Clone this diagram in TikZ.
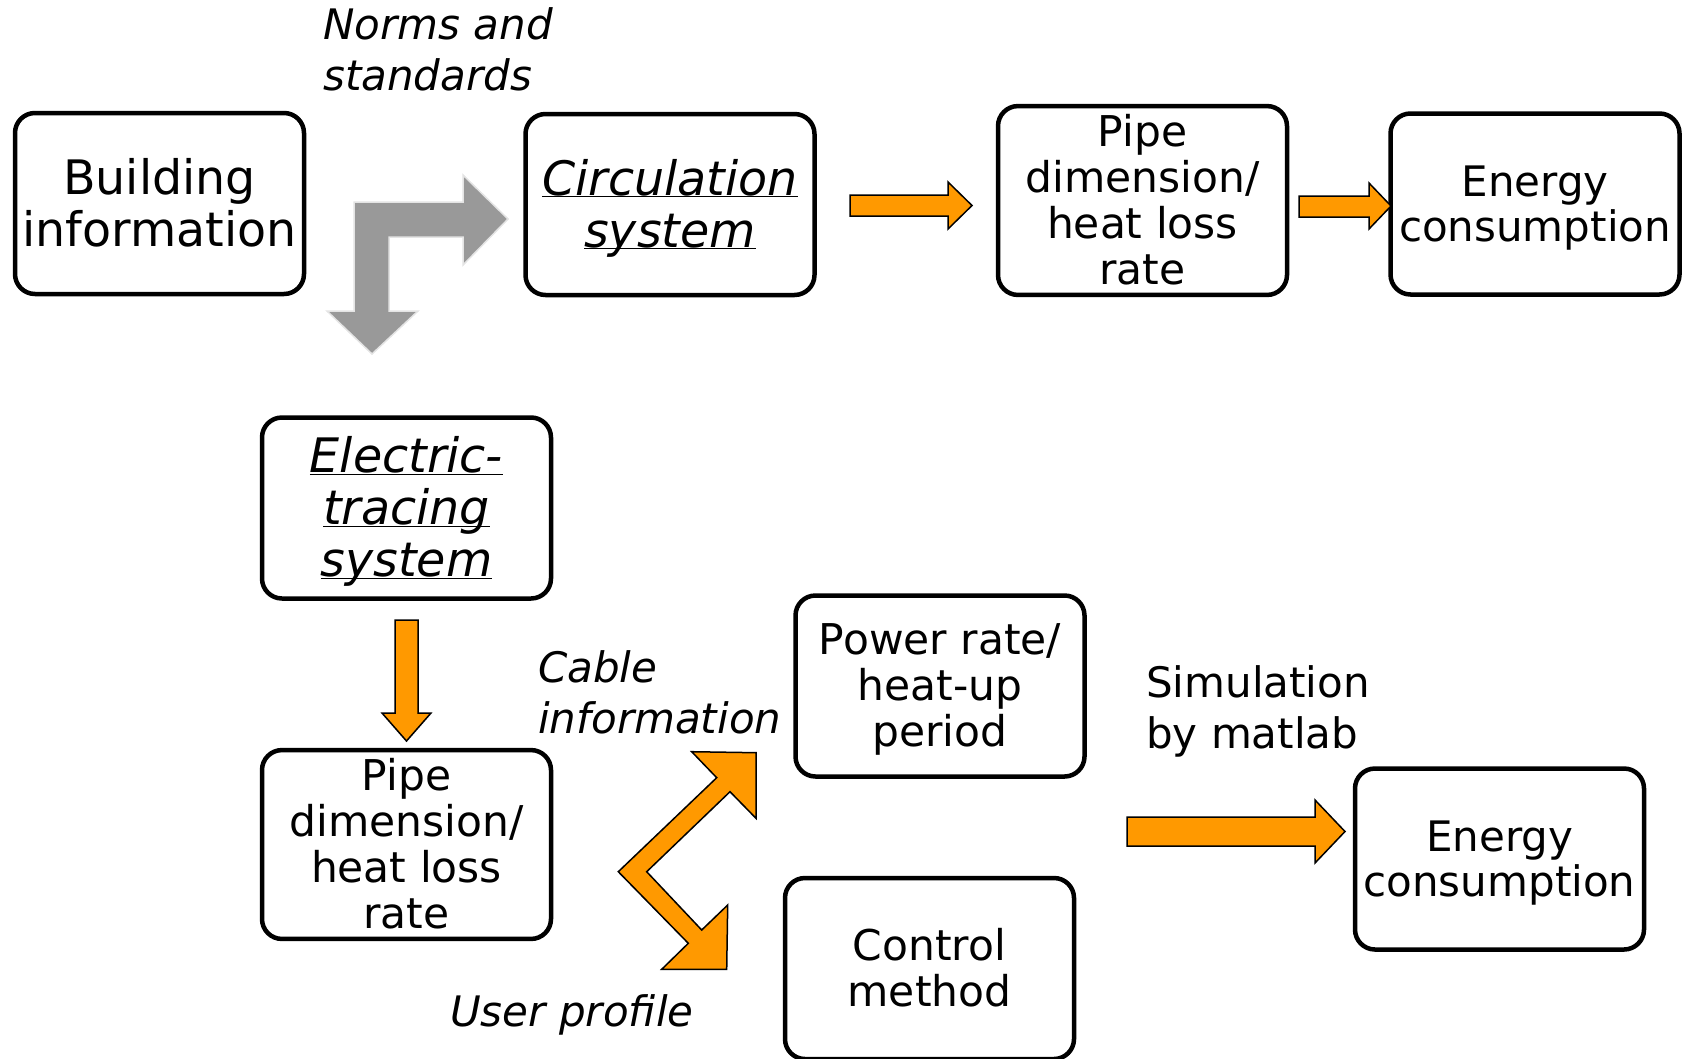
\documentclass[tikz,border=0pt]{standalone}
\usepackage{fontspec}
\setmainfont{DejaVu Sans}
\definecolor{orng}{RGB}{255,153,0}
\definecolor{garr}{RGB}{153,153,153}
\definecolor{gedge}{RGB}{228,228,228}
\newcommand\Ts{\rule{0pt}{0.95em}}
\newcommand\Bs{\rule[-0.25em]{0pt}{0.25em}}
\newcommand\ulw[1]{\underline{\smash{#1}}}
\begin{document}
\begin{tikzpicture}[x=1pt,y=-1pt,
  box/.style={draw=black, line width=4.5pt, rounded corners=20pt, fill=white,
    minimum width=289pt, minimum height=181pt, inner sep=0pt, align=center, text=black},
  big/.style={font=\fontsize{47.5}{52}\selectfont},
  bigit/.style={font=\fontsize{47.5}{52}\selectfont\itshape},
  reg/.style={font=\fontsize{42.4}{46}\selectfont},
  ene/.style={font=\fontsize{42}{45}\selectfont},
  lab/.style={anchor=base west, align=left, inner sep=0pt, font=\fontsize{42}{51}\selectfont},
  labit/.style={lab, font=\fontsize{42}{51}\selectfont\itshape},
  oarrow/.style={fill=orng, draw=black, line width=1.5pt, line join=miter},
  garrow/.style={fill=garr, draw=gedge, line width=1.5pt, line join=miter}]
\useasboundingbox (0,0) rectangle (1688,1058);
\clip (0,0) rectangle (1688,1058);

% boxes
\node[box,big] (build) at (159.5,203.5) {\Ts Building\\information\Bs};
\node[box,bigit] (circ) at (670,204.5) {\Ts\ulw{Circulation}\\\ulw{system}\Bs};
\node[box,reg] (pipetop) at (1142.5,200.5) {\Ts Pipe\\dimension/\\heat loss\\rate\Bs};
\node[box,ene] (enetop) at (1535,204) {\Ts Energy\\consumption\Bs};
\node[box,bigit] (elec) at (406.5,508) {\Ts\ulw{Electric-}\\\ulw{tracing}\\\ulw{system}\Bs};
\node[box,reg] (pipebot) at (406.5,844.5) {\Ts Pipe\\dimension/\\heat loss\\rate\Bs};
\node[box,reg] (power) at (940,686) {\Ts Power rate/\\heat-up\\period\Bs};
\node[box,reg] (control) at (929.5,968.5) {\Ts Control\\method\Bs};
\node[box,ene] (enebot) at (1499.5,859) {\Ts Energy\\consumption\Bs};

% labels (base anchor = baseline of last line)
\node[labit] (norms) at (323,90) {Norms and\\standards};
\node[labit] (cable) at (538,733) {Cable\\information};
\node[labit] (user) at (450,1026) {User profile};
\node[lab] (sim) at (1146,748) {Simulation\\by matlab};

% gray bent arrow
\draw[garrow] (354,202)--(463,202)--(463,175)--(508,219)--(463,265)--(463,237)
  --(389,237)--(389,311)--(418,311)--(372,354)--(327,311)--(354,311)--cycle;

% orange block arrows
\draw[oarrow] (850,195)--(948,195)--(948,182)--(972,205.5)--(948,229)--(948,216)--(850,216)--cycle;
\draw[oarrow] (1299,196)--(1369,196)--(1369,183)--(1391,206)--(1369,229)--(1369,217)--(1299,217)--cycle;
\draw[oarrow] (395,620)--(418,620)--(418,713)--(431,713)--(406.5,741)--(382,713)--(395,713)--cycle;
\draw[oarrow] (1127,817)--(1315,817)--(1315,800)--(1345,831.5)--(1315,863)--(1315,846)--(1127,846)--cycle;
\draw[oarrow] (716.7,777.7)--(691.7,751.7)--(756,752.7)--(756,818.3)--(730,791.7)--(646.7,871.7)
  --(701.7,930)--(727.7,905)--(726.7,969.3)--(661.7,969.3)--(688.3,943.3)--(618.3,871.7)--cycle;
\end{tikzpicture}
\end{document}
